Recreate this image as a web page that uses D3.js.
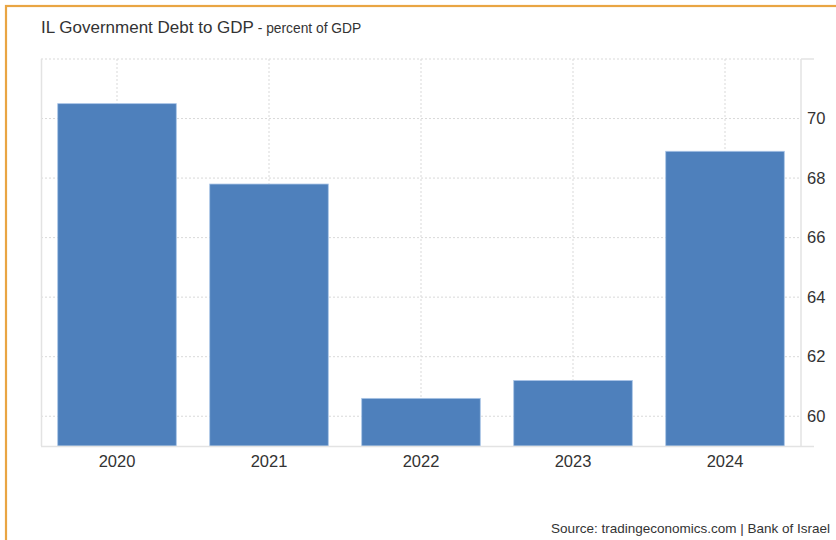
<!DOCTYPE html>
<html>
<head>
<meta charset="utf-8">
<script src="https://cdn.jsdelivr.net/npm/d3@7"></script>
<style>
  body { margin: 0; background: #fff; }
  svg { display: block; font-family: "Liberation Sans", Arial, sans-serif; }
</style>
</head>
<body>
<svg id="chart" width="836" height="540"></svg>
<script>
// data
const years = ["2020", "2021", "2022", "2023", "2024"];
const debt = [70.5, 67.8, 60.6, 61.2, 68.9];
const yTicks = [60, 62, 64, 66, 68, 70];

const W = 836, H = 540;
const m = { left: 41, right: 35, top: 59, bottom: 94 };

const svg = d3.select("#chart");

// orange frame, only top and left visible in the crop
svg.append("rect")
  .attr("x", 6).attr("y", 6)
  .attr("width", W + 20).attr("height", H + 20)
  .attr("fill", "none")
  .attr("stroke", "#e9a543")
  .attr("stroke-width", 2.2);

const x = d3.scaleBand()
  .domain(years)
  .range([m.left, W - m.right])
  .paddingInner(0.22)
  .paddingOuter(0.11);

const y = d3.scaleLinear()
  .domain([59, 72])
  .range([H - m.bottom, m.top]);

const x0 = m.left, x1 = W - m.right, y0 = H - m.bottom, y1 = m.top;

// grid
const grid = svg.append("g");
grid.selectAll("line.h")
  .data(yTicks.concat([72]))
  .enter().append("line")
  .attr("x1", x0).attr("x2", x1)
  .attr("y1", d => y(d)).attr("y2", d => y(d))
  .attr("stroke", "#d9d9d9")
  .attr("stroke-dasharray", "2,2");
grid.selectAll("line.v")
  .data(years)
  .enter().append("line")
  .attr("x1", d => x(d) + x.bandwidth() / 2)
  .attr("x2", d => x(d) + x.bandwidth() / 2)
  .attr("y1", y1).attr("y2", y0)
  .attr("stroke", "#d9d9d9")
  .attr("stroke-dasharray", "2,2");

// left border
svg.append("line")
  .attr("x1", x0 + 0.5).attr("x2", x0 + 0.5)
  .attr("y1", y1).attr("y2", y0)
  .attr("stroke", "#e3e3e3").attr("stroke-width", 1.5);

// bars
svg.selectAll("rect.bar")
  .data(debt)
  .enter().append("rect")
  .attr("class", "bar")
  .attr("x", (d, i) => x(years[i]))
  .attr("width", x.bandwidth())
  .attr("y", d => y(d))
  .attr("height", d => y0 - y(d))
  .attr("fill", "#4e80bc")
  .attr("stroke", "#a8c3e6")
  .attr("stroke-width", 0.8);

// right axis
const yAxis = svg.append("g")
  .attr("transform", "translate(" + x1 + ",0)")
  .call(d3.axisRight(y).tickValues(yTicks).tickSize(0).tickPadding(6));
yAxis.select(".domain").remove();
yAxis.selectAll("text")
  .attr("fill", "#333")
  .style("font-size", "16.5px");

svg.append("line")
  .attr("x1", x1).attr("x2", x1)
  .attr("y1", y1).attr("y2", y0)
  .attr("stroke", "#e3e3e3").attr("stroke-width", 1.5);
svg.append("line")
  .attr("x1", x1).attr("x2", x1 + 13)
  .attr("y1", y1).attr("y2", y1)
  .attr("stroke", "#e3e3e3").attr("stroke-width", 1.5);

// bottom axis
const xAxis = svg.append("g")
  .attr("transform", "translate(0," + y0 + ")")
  .call(d3.axisBottom(x).tickSize(0).tickPadding(9));
xAxis.select(".domain").remove();
xAxis.selectAll("text")
  .attr("fill", "#333")
  .style("font-size", "16.5px");
svg.append("line")
  .attr("x1", x0).attr("x2", x1 + 13)
  .attr("y1", y0 + 0.5).attr("y2", y0 + 0.5)
  .attr("stroke", "#e3e3e3").attr("stroke-width", 1.5);

// title
const title = svg.append("text")
  .attr("x", 41).attr("y", 33)
  .attr("fill", "#333");
title.append("tspan").style("font-size", "17px").text("IL Government Debt to GDP");
title.append("tspan").style("font-size", "13.8px").text(" - percent of GDP");

// source
svg.append("text")
  .attr("x", 830).attr("y", 533)
  .attr("text-anchor", "end")
  .attr("fill", "#333")
  .style("font-size", "13.5px")
  .text("Source: tradingeconomics.com | Bank of Israel");
</script>
</body>
</html>
